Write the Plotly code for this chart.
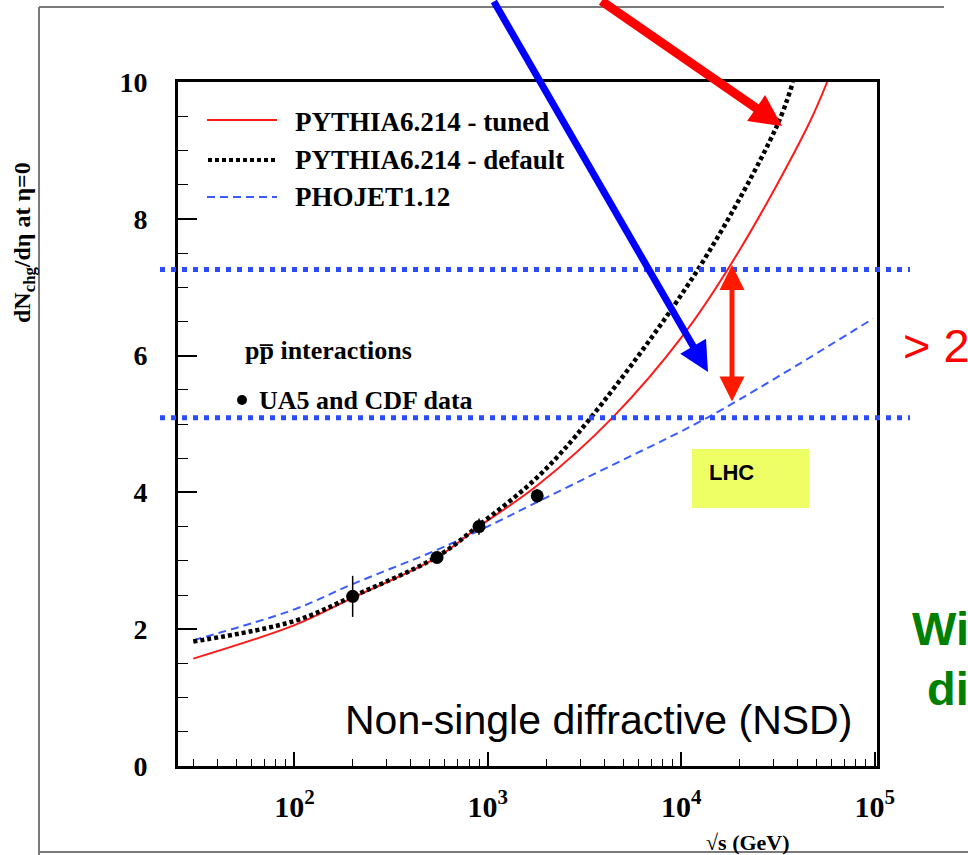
import plotly.graph_objects as go

# ---------------- data ----------------
sqrt_s_tuned = [30, 100, 200, 546, 900, 1800, 4400, 10300, 20100, 45200, 56800]
dndeta_tuned = [1.57, 2.06, 2.46, 3.05, 3.50, 4.10, 5.09, 6.31, 7.55, 9.36, 10.0]

sqrt_s_default = [30, 100, 200, 546, 900, 1800, 3400, 12200, 30900, 37800]
dndeta_default = [1.82, 2.12, 2.48, 3.06, 3.52, 4.22, 5.09, 7.26, 9.33, 10.0]

sqrt_s_phojet = [30, 100, 200, 546, 900, 1800, 4400, 14200, 98000]
dndeta_phojet = [1.84, 2.29, 2.66, 3.16, 3.44, 3.86, 4.40, 5.12, 6.54]

sqrt_s_data = [200, 546, 900, 1800]
dndeta_data = [2.48, 3.05, 3.50, 3.95]
dndeta_err = [0.30, 0.05, 0.12, 0.10]

lhc_levels = [7.26, 5.09]

x_tickvals = [1e2, 1e3, 1e4, 1e5]
x_ticktext = ["10<sup>2</sup>", "10<sup>3</sup>", "10<sup>4</sup>", "10<sup>5</sup>"]
x_minor = [m * 10 ** e for e in (1, 2, 3, 4) for m in range(2, 10)]
y_tickvals = [0, 2, 4, 6, 8, 10]
y_ticktext = ["0", "2", "4", "6", "8", "10"]

legend_labels = ["PYTHIA6.214 - tuned", "PYTHIA6.214 - default", "PHOJET1.12"]

# ---------------- geometry helpers ----------------
W, H = 968, 855
L, R, T, B = 178, 877, 82, 766


def px(x):
    return (x - L) / (R - L)


def py(y):
    return (B - y) / (B - T)


SERIF = "Liberation Serif"
SANS = "Liberation Sans"
BLUE_DASH = "#3a5cff"
BLUE_DOT = "#2a4bff"

fig = go.Figure()

fig.add_trace(go.Scatter(x=sqrt_s_phojet, y=dndeta_phojet, mode="lines",
                         line=dict(color=BLUE_DASH, width=2, dash="8px,5px", shape="spline"),
                         name=legend_labels[2], showlegend=False))
fig.add_trace(go.Scatter(x=sqrt_s_tuned, y=dndeta_tuned, mode="lines",
                         line=dict(color="#ff1a1a", width=2, shape="spline"),
                         name=legend_labels[0], showlegend=False))
fig.add_trace(go.Scatter(x=sqrt_s_default, y=dndeta_default, mode="lines",
                         line=dict(color="black", width=4.5, dash="4px,3px", shape="spline"),
                         name=legend_labels[1], showlegend=False))
fig.add_trace(go.Scatter(x=sqrt_s_data, y=dndeta_data, mode="markers",
                         marker=dict(color="black", size=13),
                         error_y=dict(type="data", array=dndeta_err, thickness=1.5,
                                      width=0, color="black"),
                         name="UA5 and CDF data", showlegend=False))

shapes = []
# outer gray frame lines
shapes.append(dict(type="line", xref="paper", yref="paper", x0=px(39), x1=px(39),
                   y0=py(7), y1=py(860), line=dict(color="#7a7a7a", width=2)))
shapes.append(dict(type="line", xref="paper", yref="paper", x0=px(39), x1=px(944),
                   y0=py(7), y1=py(7), line=dict(color="#7a7a7a", width=2)))
shapes.append(dict(type="line", xref="paper", yref="paper", x0=px(39), x1=px(975),
                   y0=py(852), y1=py(852), line=dict(color="#7a7a7a", width=2)))
# LHC levels
for lv in lhc_levels:
    shapes.append(dict(type="line", xref="paper", yref="y", x0=px(160), x1=px(910),
                       y0=lv, y1=lv, line=dict(color=BLUE_DOT, width=5, dash="5px,6px")))
# LHC box
shapes.append(dict(type="rect", xref="paper", yref="paper", x0=px(692), x1=px(809),
                   y0=py(508), y1=py(449), fillcolor="#eeff66", line=dict(width=0)))
# legend samples
shapes.append(dict(type="line", xref="paper", yref="paper", x0=px(207), x1=px(277),
                   y0=py(120), y1=py(120), line=dict(color="#ff1a1a", width=2)))
shapes.append(dict(type="line", xref="paper", yref="paper", x0=px(208), x1=px(277),
                   y0=py(160), y1=py(160), line=dict(color="black", width=4, dash="4px,3px")))
shapes.append(dict(type="line", xref="paper", yref="paper", x0=px(207), x1=px(277),
                   y0=py(197), y1=py(197), line=dict(color=BLUE_DASH, width=2, dash="8px,5px")))
# dot for data legend
shapes.append(dict(type="circle", xref="paper", yref="paper", x0=px(237), x1=px(247),
                   y0=py(405), y1=py(395), fillcolor="black", line=dict(width=0)))

ann = []


def text(x, y, s, size, family=SERIF, color="black", bold=True, xanchor="left",
         yanchor="middle", angle=0):
    ann.append(dict(x=px(x), y=py(y), xref="paper", yref="paper", text=s,
                    showarrow=False, xanchor=xanchor, yanchor=yanchor, textangle=angle,
                    font=dict(family=family, size=size, color=color,
                              weight="bold" if bold else "normal")))


for lab, yy in zip(legend_labels, [122, 160, 197]):
    text(293, yy, lab, 27)
text(243, 350, "pp\u0305 interactions", 26)
text(257, 400, "UA5 and CDF data", 26)
text(707, 472, "LHC", 22, family=SANS)
text(854, 720, "Non-single diffractive (NSD)", 41, family=SANS, bold=False, xanchor="right")
text(901, 345, "&gt; 2", 47, family=SANS, color="#ff0000", bold=False)
text(910, 628, "Wi", 47, family=SANS, color="#008000")
text(925, 688, "di", 47, family=SANS, color="#008000")
text(24, 243, "dN<sub>chg</sub>/d\u03b7 at \u03b7=0", 24, xanchor="center", angle=-90)
text(748, 842, "\u221as (GeV)", 22, xanchor="center")

# arrows
def arrow(tipx, tipy, tailx, taily, color, width, size, both=False):
    ann.append(dict(x=px(tipx), y=py(tipy), xref="paper", yref="paper", text="",
                    showarrow=True, ax=tailx - tipx, ay=taily - tipy,
                    arrowhead=2, arrowsize=size, arrowwidth=width, arrowcolor=color,
                    arrowside="end+start" if both else "end", startarrowhead=2,
                    startarrowsize=size, standoff=0, startstandoff=0))


arrow(708, 372, 493, -6, "#0000ff", 7, 0.85)
arrow(782, 126, 600, -4, "#ff0000", 9, 0.7)
arrow(732, 265, 732, 403, "#ff1a00", 5, 1.0, both=True)

fig.update_layout(
    width=W, height=H, margin=dict(l=L, r=W - R, t=T, b=H - B),
    paper_bgcolor="white", plot_bgcolor="white",
    shapes=shapes, annotations=ann, showlegend=False,
    xaxis=dict(type="log", range=[1.398, 5.012], showgrid=False, zeroline=False,
               showline=True, linecolor="black", linewidth=3, mirror=True,
               ticks="inside", ticklen=14, tickwidth=1.5, tickcolor="black",
               tickvals=x_tickvals, ticktext=x_ticktext, ticklabelstandoff=12,
               tickfont=dict(family=SERIF, size=30, color="black", weight="bold"),
               minor=dict(tickvals=x_minor, ticks="inside", ticklen=7, tickwidth=1,
                          tickcolor="black", showgrid=False)),
    yaxis=dict(range=[0, 10], showgrid=False, zeroline=False,
               showline=True, linecolor="black", linewidth=3, mirror=True,
               ticks="inside", ticklen=19, tickwidth=1.5, tickcolor="black",
               tickvals=y_tickvals, ticktext=y_ticktext, ticklabelstandoff=22,
               tickfont=dict(family=SERIF, size=28, color="black", weight="bold"),
               minor=dict(dtick=0.5, ticks="inside", ticklen=10, tickwidth=1,
                          tickcolor="black", showgrid=False)),
)

fig.write_html("out.html", config={"displayModeBar": False},
               post_script="document.body.style.margin='0';document.body.style.overflow='hidden';")
